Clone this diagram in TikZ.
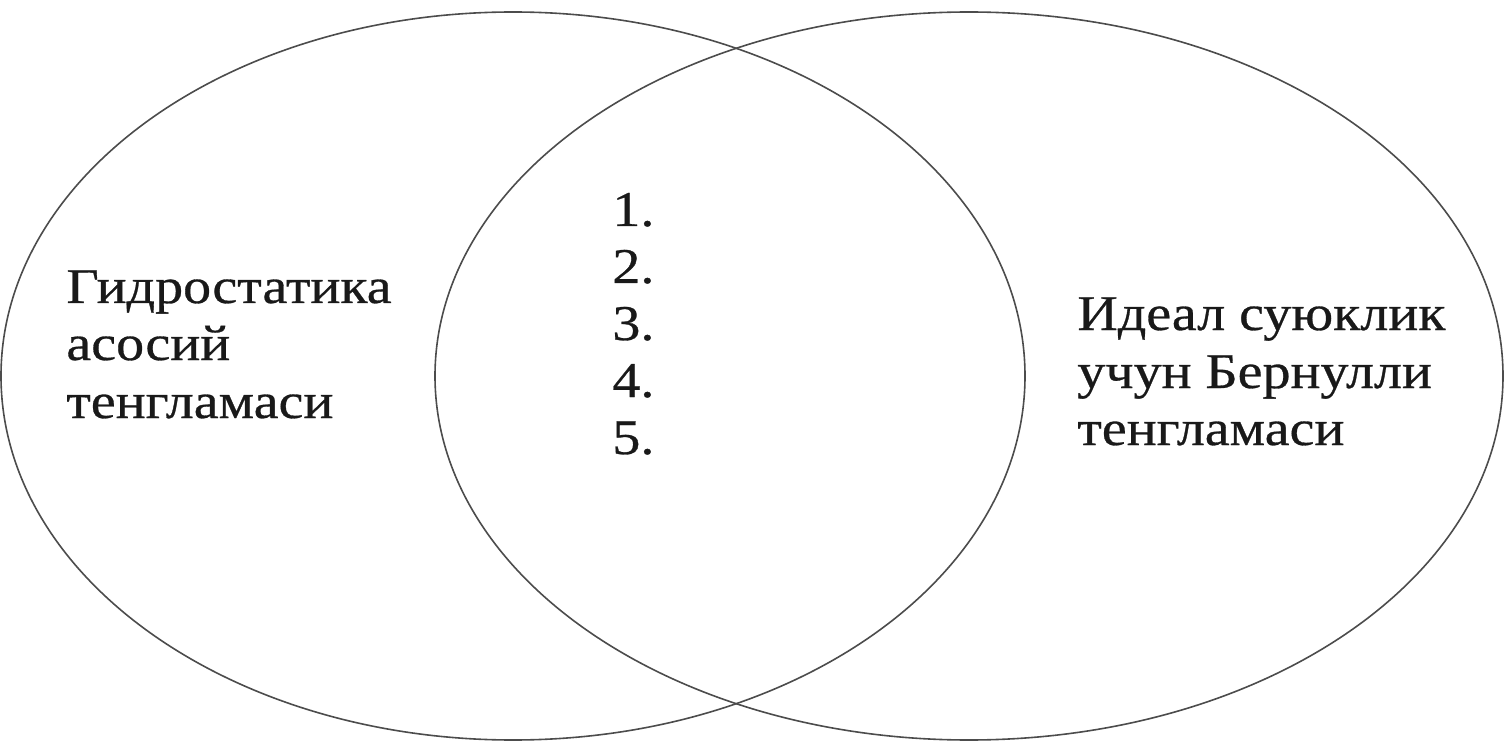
\documentclass[tikz,border=0pt]{standalone}
\usepackage{fontspec}
\setmainfont{Liberation Serif}
\newfontfamily\labelserif[FakeStretch=1.12,FakeBold=0.6]{Liberation Serif}
\usetikzlibrary{shapes.geometric}
\begin{document}
\begin{tikzpicture}[x=0.5pt,y=-0.5pt,
  setshape/.style={draw=black!70, line width=0.8pt, ellipse, inner sep=0pt, outer sep=0pt},
  lbl/.style={anchor=base west, inner sep=0pt, font=\labelserif\fontsize{25}{29}\selectfont, text=black!90}]
\useasboundingbox (0,0) rectangle (1505,743);
\node[setshape, minimum width=512pt, minimum height=364pt] (L) at (513,376) {};
\node[setshape, minimum width=534pt, minimum height=364pt] (R) at (969,376) {};
% left label
\node[lbl] (l1) at (66,303) {Гидростатика};
\node[lbl] (l2) at (66,360) {асосий};
\node[lbl] (l3) at (66,418) {тенгламаси};
% right label
\node[lbl] (r1) at (1077,330) {Идеал суюклик};
\node[lbl] (r2) at (1077,388) {учун Бернулли};
\node[lbl] (r3) at (1077,445) {тенгламаси};
% list
\node[lbl] (n1) at (612,226) {1.};
\node[lbl] (n2) at (612,283) {2.};
\node[lbl] (n3) at (612,340) {3.};
\node[lbl] (n4) at (612,397) {4.};
\node[lbl] (n5) at (612,454) {5.};
\end{tikzpicture}
\end{document}
